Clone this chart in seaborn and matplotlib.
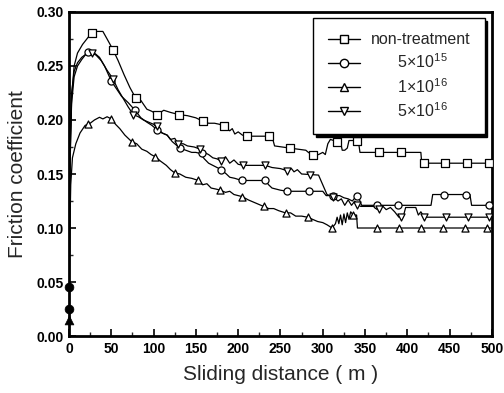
import matplotlib
matplotlib.use("Agg")
import matplotlib.pyplot as plt
import seaborn as sns
import pandas as pd
from matplotlib.lines import Line2D
from matplotlib.ticker import MultipleLocator

# ---------------- data ----------------
labels = ["non-treatment", r"5$\times$10$^{15}$", r"1$\times$10$^{16}$", r"5$\times$10$^{16}$"]
marker_styles = ["s", "o", "^", "v"]

nt_x = [0, 1, 3, 6, 10, 16, 22, 27, 32, 40, 45, 52, 58, 65, 72, 79, 85, 92, 98, 104, 112, 120, 130,
        140, 150, 158, 165, 172, 178, 183, 190, 193, 196, 200, 205, 210, 240, 243, 261, 280, 283,
        287, 295, 300, 303, 306, 309, 313, 318, 321, 323, 326, 329, 331, 342, 344, 416, 417, 500]
nt_y = [0.025, 0.15, 0.22, 0.25, 0.262, 0.27, 0.276, 0.281, 0.282, 0.282, 0.275, 0.265, 0.255,
        0.242, 0.23, 0.22, 0.218, 0.21, 0.208, 0.205, 0.209, 0.207, 0.205, 0.204, 0.202, 0.199,
        0.197, 0.197, 0.196, 0.194, 0.190, 0.192, 0.187, 0.189, 0.186, 0.185, 0.185, 0.176, 0.174,
        0.172, 0.170, 0.168, 0.168, 0.170, 0.168, 0.178, 0.182, 0.181, 0.180, 0.180, 0.172, 0.172,
        0.174, 0.181, 0.181, 0.170, 0.170, 0.160, 0.160]

c15_x = [0, 1, 3, 6, 10, 15, 20, 25, 30, 36, 42, 50, 56, 62, 70, 78, 85, 92, 98, 104, 110, 116,
         122, 128, 131, 138, 145, 150, 155, 160, 165, 170, 175, 180, 186, 190, 196, 200, 205, 232,
         236, 240, 250, 258, 300, 304, 320, 325, 330, 335, 340, 343, 346, 428, 430, 474, 476, 500]
c15_y = [0.045, 0.16, 0.215, 0.24, 0.25, 0.256, 0.261, 0.264, 0.262, 0.258, 0.250, 0.236, 0.229,
         0.222, 0.216, 0.209, 0.202, 0.198, 0.195, 0.191, 0.188, 0.186, 0.180, 0.176, 0.174, 0.172,
         0.170, 0.170, 0.169, 0.164, 0.160, 0.158, 0.156, 0.154, 0.150, 0.147, 0.146, 0.145, 0.144,
         0.144, 0.140, 0.137, 0.135, 0.134, 0.134, 0.130, 0.130, 0.128, 0.127, 0.125, 0.130, 0.127,
         0.121, 0.121, 0.131, 0.131, 0.121, 0.121]

t16_x = [0, 1, 2, 4, 8, 13, 19, 25, 30, 36, 40, 45, 50, 55, 60, 66, 74, 80, 86, 92, 97, 102, 108,
         115, 120, 125, 131, 138, 145, 153, 158, 163, 168, 174, 179, 185, 190, 195, 200, 205, 212,
         218, 224, 230, 236, 242, 248, 256, 262, 268, 275, 282, 288, 294, 300, 305, 311, 315, 317,
         319, 321, 323, 325, 327, 329, 331, 333, 336, 340, 341, 500]
t16_y = [0.015, 0.10, 0.14, 0.165, 0.178, 0.188, 0.195, 0.197, 0.200, 0.2025, 0.201, 0.203, 0.201,
         0.196, 0.192, 0.186, 0.180, 0.178, 0.173, 0.171, 0.168, 0.166, 0.162, 0.158, 0.154, 0.151,
         0.150, 0.147, 0.146, 0.144, 0.140, 0.141, 0.137, 0.136, 0.135, 0.133, 0.134, 0.131, 0.130,
         0.129, 0.126, 0.124, 0.122, 0.120, 0.118, 0.118, 0.116, 0.114, 0.114, 0.111, 0.111, 0.110,
         0.108, 0.106, 0.105, 0.103, 0.100, 0.104, 0.110, 0.104, 0.112, 0.103, 0.113, 0.105, 0.114,
         0.108, 0.115, 0.112, 0.112, 0.100, 0.100]

d16_x = [0, 1, 3, 6, 10, 15, 20, 27, 32, 38, 45, 52, 58, 64, 70, 76, 82, 88, 94, 100, 104, 110,
         116, 120, 125, 129, 135, 140, 148, 155, 160, 165, 170, 175, 180, 185, 190, 195, 200, 206,
         232, 240, 250, 258, 263, 266, 270, 275, 295, 300, 305, 312, 318, 322, 326, 330, 334, 338,
         340, 345, 360, 365, 370, 375, 380, 385, 390, 395, 398, 410, 413, 416, 420, 500]
d16_y = [0.025, 0.17, 0.225, 0.245, 0.253, 0.258, 0.261, 0.262, 0.26, 0.255, 0.246, 0.238, 0.228,
         0.220, 0.212, 0.205, 0.203, 0.200, 0.198, 0.196, 0.193, 0.188, 0.186, 0.182, 0.183, 0.178,
         0.178, 0.176, 0.175, 0.173, 0.170, 0.168, 0.165, 0.164, 0.162, 0.166, 0.160, 0.163, 0.159,
         0.158, 0.158, 0.156, 0.155, 0.153, 0.155, 0.152, 0.154, 0.150, 0.149, 0.140, 0.131, 0.129,
         0.125, 0.127, 0.121, 0.126, 0.121, 0.125, 0.122, 0.120, 0.120, 0.117, 0.121, 0.117, 0.119,
         0.115, 0.110, 0.110, 0.119, 0.119, 0.112, 0.115, 0.110, 0.110]

# marker positions
nt_mx = [27, 52, 79, 104, 130, 158, 183, 210, 236, 261, 289, 317, 341, 366, 393, 420, 444, 470, 496]
nt_my = [0.281, 0.265, 0.220, 0.205, 0.205, 0.199, 0.194, 0.185, 0.185, 0.174, 0.168, 0.180, 0.181,
         0.170, 0.170, 0.160, 0.160, 0.160, 0.160]
c15_mx = [23, 50, 78, 104, 131, 157, 180, 205, 232, 258, 284, 312, 340, 364, 389, 443, 469, 496]
c15_my = [0.263, 0.236, 0.209, 0.191, 0.174, 0.169, 0.154, 0.144, 0.144, 0.134, 0.134, 0.130, 0.130,
          0.121, 0.121, 0.131, 0.131, 0.121]
t16_mx = [22, 50, 74, 102, 125, 153, 179, 204, 230, 256, 282, 311, 336, 364, 390, 416, 442, 468, 494]
t16_my = [0.196, 0.201, 0.180, 0.166, 0.151, 0.144, 0.135, 0.129, 0.120, 0.114, 0.110, 0.100, 0.112,
          0.100, 0.100, 0.100, 0.100, 0.100, 0.100]
d16_mx = [27, 52, 76, 104, 129, 155, 180, 206, 232, 258, 285, 312, 340, 367, 393, 420, 446, 472, 496]
d16_my = [0.262, 0.238, 0.205, 0.194, 0.178, 0.173, 0.162, 0.158, 0.158, 0.153, 0.149, 0.129, 0.121,
          0.118, 0.110, 0.110, 0.110, 0.110, 0.110]

start_x = [0, 0, 0]
start_y = [0.045, 0.025, 0.015]
start_m = ["o", "o", "^"]

x_ticks = [0, 50, 100, 150, 200, 250, 300, 350, 400, 450, 500]
y_ticks = [0.00, 0.05, 0.10, 0.15, 0.20, 0.25, 0.30]

# ---------------- plotting ----------------
sns.set_theme(style="ticks")
plt.rcParams["font.family"] = ["Liberation Sans", "DejaVu Sans"]
plt.rcParams["mathtext.fontset"] = "custom"
plt.rcParams["mathtext.rm"] = "Liberation Sans"

fig = plt.figure(figsize=(5.04, 3.93), dpi=100)
ax = fig.add_axes([0.137, 0.145, 0.839, 0.8245])

lines = [(nt_x, nt_y), (c15_x, c15_y), (t16_x, t16_y), (d16_x, d16_y)]
marks = [(nt_mx, nt_my), (c15_mx, c15_my), (t16_mx, t16_my), (d16_mx, d16_my)]

for (lx, ly) in lines:
    df = pd.DataFrame({"x": lx, "y": ly})
    sns.lineplot(data=df, x="x", y="y", ax=ax, color="black", lw=0.9,
                 estimator=None, sort=False)

for (mx, my), m in zip(marks, marker_styles):
    dfm = pd.DataFrame({"x": mx, "y": my})
    sns.scatterplot(data=dfm, x="x", y="y", ax=ax, marker=m, s=26,
                    facecolor="white", edgecolor="black", linewidth=0.9, zorder=3)

for sx, sy, m in zip(start_x, start_y, start_m):
    sns.scatterplot(x=[sx], y=[sy], ax=ax, marker=m, s=40, color="black",
                    edgecolor="black", zorder=4, clip_on=False)

ax.set_xlim(0, 500)
ax.set_ylim(0, 0.30)
ax.set_xticks(x_ticks)
ax.set_yticks(y_ticks)
ax.set_xticklabels([str(t) for t in x_ticks])
ax.set_yticklabels([f"{t:.2f}" for t in y_ticks])
ax.xaxis.set_minor_locator(MultipleLocator(25))
ax.yaxis.set_minor_locator(MultipleLocator(0.025))
ax.tick_params(which="major", direction="in", length=5, width=1.2, labelsize=10,
               colors="black", pad=4)
ax.tick_params(which="minor", direction="in", length=3, width=1.0)
for lab in ax.get_xticklabels() + ax.get_yticklabels():
    lab.set_fontweight("bold")

for sp in ax.spines.values():
    sp.set_visible(True)
    sp.set_linewidth(2.0)
    sp.set_color("black")

ax.set_xlabel("Sliding distance ( m )", fontsize=15, labelpad=7)
ax.set_ylabel("Friction coefficient", fontsize=15, labelpad=7)

handles = [Line2D([0], [0], color="black", lw=1.0, marker=m, markersize=6,
                  markerfacecolor="white", markeredgecolor="black")
           for m in marker_styles]
leg_labels = [labels[0], "      " + labels[1], "      " + labels[2], "      " + labels[3]]
leg = ax.legend(handles, leg_labels, loc="upper right", bbox_to_anchor=(0.983, 0.982),
                fontsize=11.5, frameon=True, fancybox=False, shadow={"color": "black", "alpha": 1},
                handlelength=2.0, handletextpad=0.7, labelspacing=0.35, borderpad=0.9,
                borderaxespad=0)
leg.get_frame().set_edgecolor("black")
leg.get_frame().set_linewidth(1.0)

fig.savefig("out.png", dpi=100)
